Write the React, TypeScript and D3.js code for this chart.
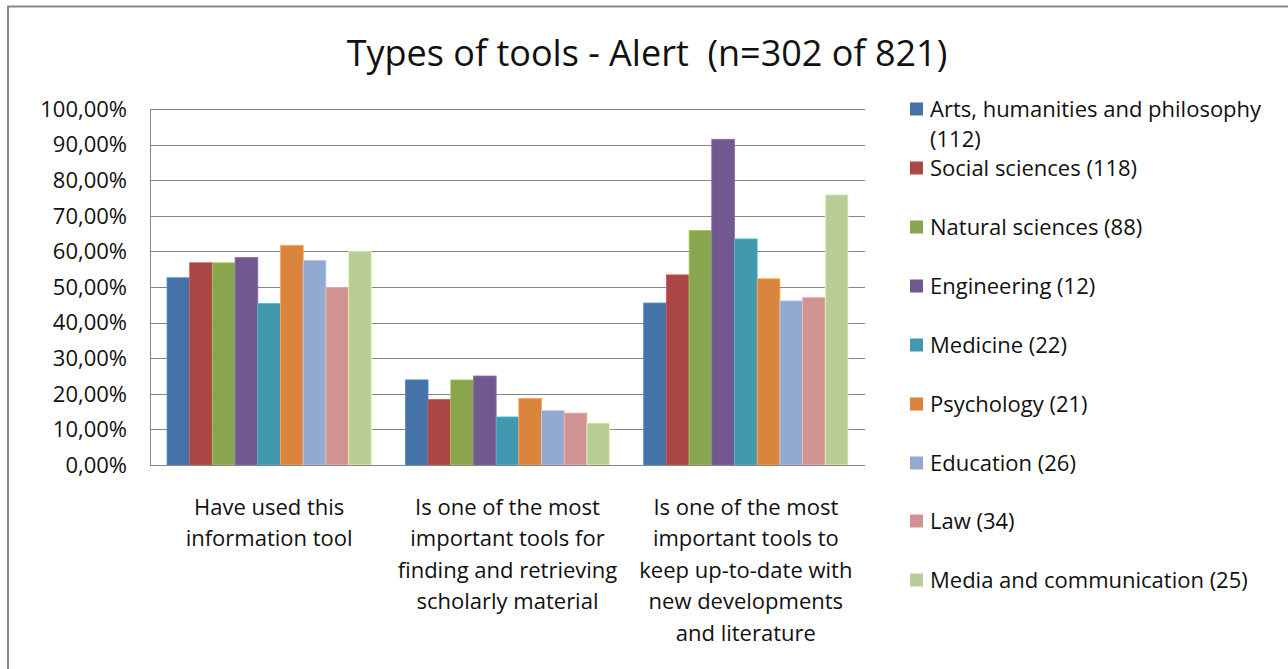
import React from "react";
import * as d3 from "d3";

const categories = [
  "Have used this information tool",
  "Is one of the most important tools for finding and retrieving scholarly material",
  "Is one of the most important tools to keep up-to-date with new developments and literature",
];
const categoryLines = [
  ["Have used this", "information tool"],
  ["Is one of the most", "important tools for", "finding and retrieving", "scholarly material"],
  ["Is one of the most", "important tools to", "keep up-to-date with", "new developments", "and literature"],
];

const seriesNames = [
  "Arts, humanities and philosophy (112)",
  "Social sciences (118)",
  "Natural sciences (88)",
  "Engineering (12)",
  "Medicine (22)",
  "Psychology (21)",
  "Education (26)",
  "Law (34)",
  "Media and communication (25)",
];
const legendLines = [
  ["Arts, humanities and philosophy", "(112)"],
  ["Social sciences (118)"],
  ["Natural sciences (88)"],
  ["Engineering (12)"],
  ["Medicine (22)"],
  ["Psychology (21)"],
  ["Education (26)"],
  ["Law (34)"],
  ["Media and communication (25)"],
];
const colors = ["#4572A7", "#AA4643", "#89A54E", "#71588F", "#4198AF", "#DB843D", "#93A9CF", "#D19392", "#B9CD96"];

// values per series, in category order (fractions)
const arts = [0.526, 0.239, 0.455];
const social = [0.568, 0.184, 0.534];
const natural = [0.568, 0.239, 0.659];
const engineering = [0.583, 0.25, 0.915];
const medicine = [0.454, 0.135, 0.635];
const psychology = [0.617, 0.187, 0.523];
const education = [0.575, 0.153, 0.461];
const law = [0.498, 0.146, 0.471];
const media = [0.599, 0.118, 0.759];
const seriesValues = [arts, social, natural, engineering, medicine, psychology, education, law, media];

const yTicks = [0, 0.1, 0.2, 0.3, 0.4, 0.5, 0.6, 0.7, 0.8, 0.9, 1.0];
const title = "Types of tools - Alert\u00A0 (n=302 of 821)";

const FONT = "'Open Sans', 'Noto Sans', sans-serif";

export default function App() {
  const W = 1288, H = 669;
  const left = 150, right = 865, top = 109, bottom = 465;
  const p = 1.5 / 10.5;
  const x0 = d3.scaleBand<string>().domain(categories).range([left, right]).paddingInner(p).paddingOuter(p / 2);
  const x1 = d3.scaleBand<string>().domain(seriesNames).range([0, x0.bandwidth()]);
  const y = d3.scaleLinear().domain([0, 1]).range([bottom, top]);
  const fmt = (v: number) => (v * 100).toFixed(2).replace(".", ",") + "%";
  const legendYs = [109, 168, 227, 286, 345, 404, 463, 521, 580];

  return (
    <svg width={W} height={H} style={{ position: "absolute", left: 0, top: 0, background: "#fff" }} fontFamily={FONT}>
      <rect x={0} y={0} width={W} height={H} fill="#fff" />
      <rect x={8} y={6.5} width={W + 20} height={H + 20} fill="none" stroke="#878787" strokeWidth={2} />
      <text x={647} y={66} textAnchor="middle" fontSize={36} fill="#111">{title}</text>

      {yTicks.map((t) => (
        <g key={t}>
          {t > 0 && <line x1={left} x2={right} y1={Math.round(y(t)) + 0.5} y2={Math.round(y(t)) + 0.5} stroke="#868686" strokeWidth={1} />}
          <text x={127} y={y(t)} dy="0.35em" textAnchor="end" fontSize={22} fill="#111">{fmt(t)}</text>
        </g>
      ))}

      {categories.map((c, ci) => (
        <g key={c} transform={`translate(${x0(c)},0)`}>
          {seriesNames.map((s, si) => (
            <rect
              key={s}
              x={x1(s)}
              y={y(seriesValues[si][ci])}
              width={x1.bandwidth()}
              height={bottom - y(seriesValues[si][ci])}
              fill={colors[si]}
              stroke={d3.color(colors[si])!.brighter(0.6).toString()}
              strokeWidth={0.8}
            />
          ))}
        </g>
      ))}

      <line x1={left + 0.5} x2={left + 0.5} y1={top} y2={bottom} stroke="#868686" strokeWidth={1} />
      <line x1={left} x2={right} y1={bottom + 0.5} y2={bottom + 0.5} stroke="#868686" strokeWidth={1} />

      {categories.map((c, ci) => (
        <text key={c} textAnchor="middle" fontSize={22} fill="#111">
          {categoryLines[ci].map((ln, li) => (
            <tspan key={li} x={(x0(c) as number) + x0.bandwidth() / 2} y={507 + li * 31.5} dy="0.35em">{ln}</tspan>
          ))}
        </text>
      ))}

      {seriesNames.map((s, si) => (
        <g key={s}>
          <rect x={910} y={legendYs[si] - 6.5} width={13} height={13} fill={colors[si]} />
          <text fontSize={22} fill="#111">
            {legendLines[si].map((ln, li) => (
              <tspan key={li} x={930} y={legendYs[si] + li * 30} dy="0.35em">{ln}</tspan>
            ))}
          </text>
        </g>
      ))}
    </svg>
  );
}
